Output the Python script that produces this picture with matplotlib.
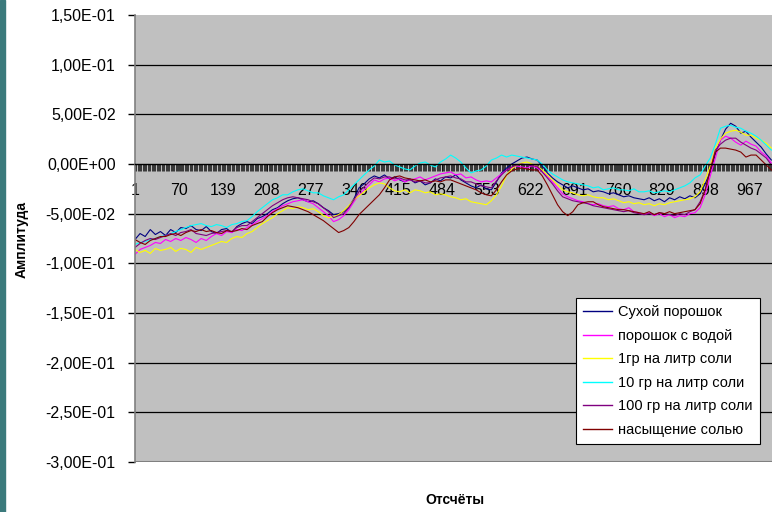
import numpy as np
import matplotlib
matplotlib.use("Agg")
import matplotlib.pyplot as plt
from matplotlib.patches import Rectangle
from matplotlib.ticker import FixedLocator, FuncFormatter

plt.rcParams["font.family"] = ["Liberation Sans", "DejaVu Sans"]

# samples every 8 counts, values in units of 1e-3
sample_idx = np.arange(1, 1002, 8)

navy = [
    -76, -70, -73, -66, -71, -68, -72, -66, -69, -64,
    -65, -62, -66, -67, -63, -68, -70, -66, -65, -69,
    -63, -60, -58, -60, -55, -53, -50, -46, -44, -40,
    -37, -35, -34, -36, -38, -37, -40, -44, -47, -51,
    -50, -48, -43, -35, -24, -20, -15, -12, -14, -11,
    -15, -13, -16, -18, -15, -19, -17, -21, -19, -15,
    -17, -13, -14, -11, -16, -19, -22, -24, -21, -25,
    -26, -18, -9, -4, 0, 3, 6, 7, 5, 4,
    -2, -9, -14, -18, -21, -24, -22, -24, -26, -25,
    -28, -27, -28, -30, -29, -31, -33, -32, -34, -35,
    -36, -34, -37, -35, -38, -34, -36, -33, -35, -32,
    -34, -30, -20, -8, 10, 24, 35, 41, 38, 31,
    33, 27, 22, 17, 10, 4,
]
magenta = [
    -91, -86, -84, -82, -79, -80, -76, -78, -75, -77,
    -74, -76, -79, -75, -77, -73, -70, -72, -68, -69,
    -66, -67, -64, -61, -58, -55, -52, -48, -45, -42,
    -40, -38, -37, -36, -38, -40, -44, -48, -52, -58,
    -56, -52, -46, -38, -31, -26, -21, -16, -18, -15,
    -14, -17, -15, -18, -16, -15, -13, -16, -14, -12,
    -10, -9, -8, -11, -10, -14, -13, -16, -18, -17,
    -18, -14, -10, -6, -4, -2, -3, -4, -2, -4,
    -8, -12, -18, -24, -30, -33, -35, -37, -38, -40,
    -41, -40, -42, -43, -42, -45, -46, -44, -48, -49,
    -51, -49, -52, -50, -53, -51, -54, -52, -53, -50,
    -49, -44, -31, -12, 6, 24, 28, 26, 22, 19,
    23, 20, 18, 12, 8, 1,
]
yellow = [
    -86, -89, -87, -90, -85, -87, -86, -84, -88, -85,
    -86, -89, -84, -86, -84, -82, -80, -78, -79, -75,
    -73, -74, -70, -68, -64, -60, -57, -54, -50, -47,
    -44, -45, -43, -44, -46, -45, -48, -52, -54, -53,
    -51, -47, -42, -36, -32, -28, -24, -21, -19, -20,
    -24, -27, -28, -26, -29, -26, -27, -29, -28, -31,
    -30, -31, -33, -34, -36, -35, -38, -39, -40, -41,
    -37, -31, -22, -11, -5, -1, 1, 2, 0, -2,
    -6, -11, -16, -21, -26, -28, -29, -31, -32, -31,
    -33, -34, -34, -36, -35, -37, -39, -38, -40, -39,
    -41, -40, -42, -40, -41, -39, -38, -37, -36, -35,
    -33, -28, -16, -2, 16, 25, 31, 33, 34, 32,
    29, 29, 26, 24, 21, 16,
]
cyan = [
    -81, -79, -78, -76, -75, -73, -72, -70, -68, -66,
    -64, -62, -61, -60, -62, -63, -61, -62, -64, -61,
    -60, -58, -57, -53, -48, -44, -40, -36, -34, -31,
    -31, -28, -26, -25, -27, -29, -29, -32, -34, -36,
    -33, -31, -26, -21, -16, -11, -6, -2, 4, 2,
    3, -1, -3, -5, -6, -2, 1, 2, -1, -3,
    2, 5, 9, 6, 2, -4, -9, -7, -6, -2,
    4, 6, 9, 7, 9, 8, 7, 6, 5, 4,
    0, -6, -10, -13, -16, -18, -19, -20, -21, -22,
    -24, -23, -26, -25, -24, -26, -26, -27, -25, -28,
    -28, -27, -29, -28, -27, -28, -26, -24, -22, -19,
    -14, -11, -2, 6, 20, 36, 38, 39, 37, 36,
    33, 31, 28, 24, 19, 14,
]
purple = [
    -84, -80, -77, -75, -76, -74, -72, -70, -72, -69,
    -68, -66, -70, -71, -72, -70, -69, -68, -67, -68,
    -64, -62, -62, -58, -54, -50, -46, -42, -39, -36,
    -34, -33, -34, -35, -36, -38, -40, -44, -48, -54,
    -52, -50, -44, -36, -28, -23, -18, -14, -15, -13,
    -13, -15, -14, -16, -16, -18, -17, -19, -19, -16,
    -14, -13, -12, -14, -15, -18, -18, -20, -22, -23,
    -24, -17, -11, -6, -3, -1, 0, -1, -2, -2,
    -8, -14, -20, -27, -33, -35, -37, -38, -39, -40,
    -42, -43, -44, -45, -46, -47, -48, -47, -49, -50,
    -51, -50, -51, -49, -50, -51, -52, -50, -51, -48,
    -46, -38, -26, -6, 14, 20, 24, 26, 26, 22,
    19, 16, 14, 10, 6, -1,
]
brown = [
    -76, -79, -81, -77, -75, -73, -73, -71, -70, -72,
    -69, -67, -68, -66, -68, -67, -69, -70, -67, -68,
    -67, -65, -66, -62, -60, -58, -53, -49, -46, -44,
    -42, -43, -44, -46, -48, -51, -54, -57, -61, -65,
    -69, -67, -64, -58, -51, -46, -41, -36, -31, -24,
    -16, -13, -12, -14, -15, -16, -17, -16, -18, -17,
    -18, -16, -16, -18, -20, -22, -24, -26, -29, -31,
    -32, -26, -18, -11, -7, -5, -4, -5, -6, -6,
    -12, -21, -31, -41, -48, -52, -48, -41, -39, -38,
    -38, -41, -43, -44, -45, -46, -46, -47, -48, -49,
    -50, -48, -51, -49, -50, -48, -50, -49, -48, -47,
    -46, -40, -26, -6, 12, 16, 16, 15, 14, 12,
    7, 9, 9, 4, -1, -6,
]

series_names = [
    "Сухой порошок",
    "порошок с водой",
    "1гр на литр соли",
    "10 гр на литр соли",
    "100 гр на литр соли",
    "насыщение солью",
]
series_data = [navy, magenta, yellow, cyan, purple, brown]
series_colors = ["#000080", "#FF00FF", "#FFFF00", "#00FFFF", "#800080", "#800000"]

y_ticks = [0.15, 0.1, 0.05, 0.0, -0.05, -0.1, -0.15, -0.2, -0.25, -0.3]
x_ticks = np.arange(1, 1002, 69)

fig = plt.figure(figsize=(7.72, 5.12), dpi=100)
ax = fig.add_axes([135 / 772, 50 / 512, 637 / 772, 447 / 512])
ax.set_facecolor("#C0C0C0")

for name, vals, col in zip(series_names, series_data, series_colors):
    ax.plot(sample_idx, np.array(vals) / 1000.0, color=col, lw=0.8, label=name)

ax.set_xlim(1, 1002)
ax.set_ylim(-0.3, 0.15)

# gridlines
for yv in y_ticks:
    if yv in (0.15, 0.0, -0.3):
        continue
    ax.axhline(yv, color="black", lw=0.9, zorder=1)
ax.axhline(-0.3, color="#808080", lw=1.5, zorder=1)

for side in ["top", "right"]:
    ax.spines[side].set_visible(False)
ax.spines["left"].set_color("#808080")
ax.spines["left"].set_linewidth(1.2)
ax.spines["bottom"].set_position(("data", 0))
ax.spines["bottom"].set_color("black")
ax.spines["bottom"].set_linewidth(1.0)

ax.yaxis.set_major_locator(FixedLocator(y_ticks))
ax.yaxis.set_major_formatter(
    FuncFormatter(lambda v, p: f"{v:.2E}".replace(".", ","))
)
ax.tick_params(axis="y", direction="out", length=5, width=1, color="black",
               labelsize=11.5, pad=9, labelcolor="black")

ax.xaxis.set_major_locator(FixedLocator(x_ticks))
ax.xaxis.set_minor_locator(FixedLocator(np.arange(1, 1002, 2)))
ax.xaxis.set_major_formatter(FuncFormatter(lambda v, p: f"{int(v)}"))
ax.tick_params(axis="x", which="major", direction="out", length=5, width=0.5,
               labelsize=11.5, pad=9)
ax.tick_params(axis="x", which="minor", direction="out", length=5, width=0.5)

leg = ax.legend(loc="upper left", bbox_to_anchor=(0.692, 0.367), fontsize=10.5,
                frameon=True, fancybox=False, framealpha=1, edgecolor="black",
                handlelength=2.0, labelspacing=0.65, borderpad=0.5,
                handletextpad=0.4, borderaxespad=0)
leg.get_frame().set_linewidth(0.8)
for line in leg.get_lines():
    line.set_linewidth(1.0)

fig.text(22 / 772, 1 - 240 / 512, "Амплитуда", rotation=90, fontsize=10,
         fontweight="bold", ha="center", va="center")
fig.text(455 / 772, 1 - 500 / 512, "Отсчёты", fontsize=10,
         fontweight="bold", ha="center", va="center")

fig.patches.append(Rectangle((0, 0), 5 / 772, 1, transform=fig.transFigure,
                             color="#3B7A7C", zorder=0))

fig.savefig("out.png", dpi=100)
